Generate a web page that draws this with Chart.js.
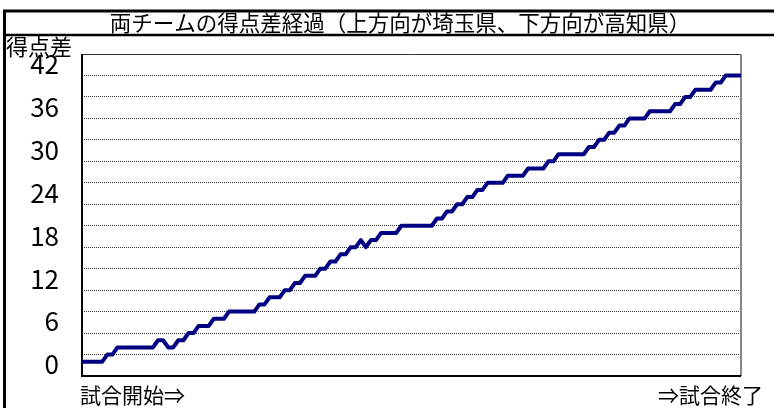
<!DOCTYPE html>
<html lang="ja">
<head>
<meta charset="utf-8">
<title>両チームの得点差経過</title>
<script src="https://cdn.jsdelivr.net/npm/chart.js@4.4.1/dist/chart.umd.min.js"></script>
<style>
    html, body { margin: 0; padding: 0; background: #fff; }
</style>
</head>
<body>
<canvas id="graficoTokuten" width="774" height="408"></canvas>
<script>
// 得点差（プラスが埼玉県リード）、得点が動くたびに1点ずつ
const tokutenSa = [
    0, 0, 0, 0, 0, 1, 1, 2, 2, 2, 2, 2, 2, 2, 2, 3, 3, 2, 2, 3,
    3, 4, 4, 5, 5, 5, 6, 6, 6, 7, 7, 7, 7, 7, 7, 8, 8, 9, 9, 9,
    10, 10, 11, 11, 12, 12, 12, 13, 13, 14, 14, 15, 15, 16, 16, 17, 16, 17, 17, 18,
    18, 18, 18, 19, 19, 19, 19, 19, 19, 19, 20, 20, 21, 21, 22, 22, 23, 23, 24, 24,
    25, 25, 25, 25, 26, 26, 26, 26, 27, 27, 27, 27, 28, 28, 29, 29, 29, 29, 29, 29,
    30, 30, 31, 31, 32, 32, 33, 33, 34, 34, 34, 34, 35, 35, 35, 35, 35, 36, 36, 37,
    37, 38, 38, 38, 38, 39, 39, 40, 40, 40, 40
];
const categorias = tokutenSa.map((v, i) => i + 1);

// 目盛り
const ejeLabels = [0, 6, 12, 18, 24, 30, 36, 42];
const gridValores = [1, 4, 7, 10, 13, 16, 19, 22, 25, 28, 31, 34, 37, 40];

// テキスト
const tituloTexto = '両チームの得点差経過（上方向が埼玉県、下方向が高知県）';
const ejeTitulo = '得点差';
const inicioTexto = '試合開始⇒';
const finTexto = '⇒試合終了';

const fuente = '"Noto Sans CJK JP", "Noto Sans", sans-serif';
Chart.defaults.font.family = fuente;
Chart.defaults.color = '#000';

// 外枠・プロット枠・タイトルなど
const marcoPlugin = {
    id: 'marco',
    beforeDatasetsDraw(chart) {
        const { ctx, chartArea: a } = chart;
        ctx.save();
        ctx.lineWidth = 1;
        ctx.strokeStyle = '#333';
        ctx.beginPath();
        ctx.moveTo(a.left, a.top + 0.5);
        ctx.lineTo(a.right, a.top + 0.5);
        ctx.stroke();
        ctx.lineWidth = 2;
        ctx.strokeStyle = '#888';
        ctx.beginPath();
        ctx.moveTo(a.right, a.top);
        ctx.lineTo(a.right, a.bottom);
        ctx.stroke();
        ctx.strokeStyle = '#000';
        ctx.beginPath();
        ctx.moveTo(a.left, a.top);
        ctx.lineTo(a.left, a.bottom);
        ctx.lineTo(a.right, a.bottom);
        ctx.stroke();
        ctx.restore();
    },
    afterDraw(chart) {
        const { ctx, chartArea: a, width } = chart;
        ctx.save();
        ctx.strokeStyle = '#000';
        ctx.lineWidth = 3;
        ctx.beginPath();
        ctx.moveTo(3, 11);
        ctx.lineTo(width, 11);
        ctx.moveTo(4.5, 9.5);
        ctx.lineTo(4.5, chart.height);
        ctx.stroke();
        ctx.lineWidth = 2.5;
        ctx.beginPath();
        ctx.moveTo(3, 35);
        ctx.lineTo(width, 35);
        ctx.stroke();

        ctx.fillStyle = '#000';
        ctx.textBaseline = 'middle';
        ctx.textAlign = 'center';
        ctx.font = '21.5px ' + fuente;
        ctx.fillText(tituloTexto, 400, 23);
        ctx.textAlign = 'left';
        ctx.font = '22px ' + fuente;
        ctx.fillText(ejeTitulo, 6, 47);
        ctx.font = '21px ' + fuente;
        ctx.fillText(inicioTexto, a.left - 2, 395);
        ctx.textAlign = 'right';
        ctx.fillText(finTexto, 763, 395);
        ctx.restore();
    }
};

const configTokuten = {
    type: 'line',
    data: {
        labels: categorias,
        datasets: [{
            label: ejeTitulo,
            data: tokutenSa,
            borderColor: '#000080',
            borderWidth: 4,
            borderJoinStyle: 'round',
            pointRadius: 0,
            tension: 0,
            fill: false
        }]
    },
    options: {
        responsive: false,
        animation: false,
        devicePixelRatio: 1,
        layout: { padding: { left: 0, right: 33, top: 54, bottom: 32 } },
        plugins: {
            legend: { display: false },
            tooltip: { enabled: false },
            title: { display: false }
        },
        scales: {
            x: { display: false },
            y: {
                position: 'left',
                min: -2,
                max: 43,
                afterBuildTicks: (ax) => { ax.ticks = gridValores.map(v => ({ value: v })); },
                afterFit: (ax) => { ax.width = 0; },
                ticks: { display: false },
                border: { display: false, dash: [1, 1] },
                grid: { color: '#333', lineWidth: 1, drawTicks: false }
            },
            yLab: {
                position: 'left',
                min: -1.6,
                max: 43.4,
                afterBuildTicks: (ax) => { ax.ticks = ejeLabels.map(v => ({ value: v })); },
                afterFit: (ax) => { ax.width = 82; },
                grid: { display: false },
                border: { display: false },
                ticks: { autoSkip: false, padding: 15, color: '#000', font: { size: 26 } }
            }
        }
    },
    plugins: [marcoPlugin]
};

const ctxTokuten = document.getElementById('graficoTokuten').getContext('2d');
new Chart(ctxTokuten, configTokuten);
</script>
</body>
</html>
